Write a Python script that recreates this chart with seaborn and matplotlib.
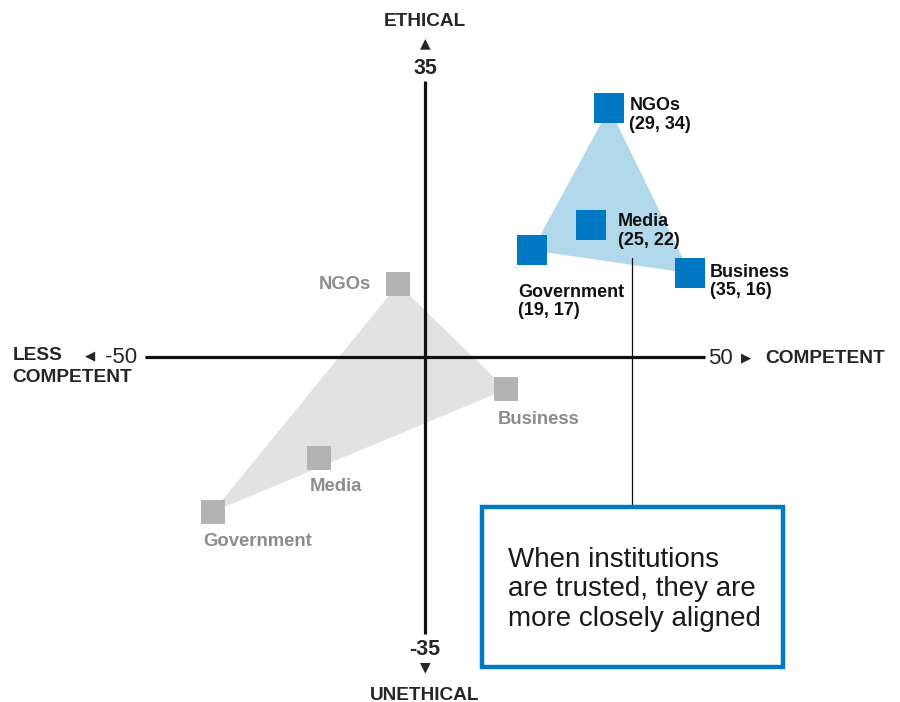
import matplotlib
matplotlib.use("Agg")
import matplotlib.pyplot as plt
import matplotlib.patches as patches
import seaborn as sns
import pandas as pd

# institutions, in the order used to draw the triangles
institutions = ["NGOs", "Media", "Government", "Business"]

# trusted set (blue) - plotted positions and printed labels
trusted_x = [32.9, 29.7, 19.1, 47.3]
trusted_y = [31.5, 16.7, 13.5, 10.6]
trusted_labels = ["NGOs\n(29, 34)", "Media\n(25, 22)", "Government\n(19, 17)", "Business\n(35, 16)"]

# distrusted set (gray)
distrust_x = [-4.8, -18.9, -37.9, 14.5]
distrust_y = [9.2, -12.8, -19.6, -4.1]

# axis scale ends
x_ticks = [-50, 50]
y_ticks = [-35, 35]

callout = "When institutions\nare trusted, they are\nmore closely aligned"

BLUE = "#0079C2"
BLUE_FILL = "#B2D8EC"
GRAY = "#B3B3B3"
GRAY_FILL = "#E2E2E2"
GRAY_TEXT = "#8C8C8C"
INK = "#111111"

sns.set_style("white")
plt.rcParams["font.family"] = ["Liberation Sans", "DejaVu Sans"]

trusted = pd.DataFrame({"name": institutions, "x": trusted_x, "y": trusted_y, "label": trusted_labels})
distrust = pd.DataFrame({"name": institutions, "x": distrust_x, "y": distrust_y})

fig = plt.figure(figsize=(9, 7.02), dpi=100)
ax = fig.add_axes([0, 0, 1, 1])
ax.set_xlim(-75.9, 84.8)
ax.set_ylim(-43.67, 45.19)
ax.axis("off")

# triangles (NGOs, Business, Government)
hull = ["NGOs", "Business", "Government"]
d_h = distrust.set_index("name").loc[hull]
t_h = trusted.set_index("name").loc[hull]
ax.fill(d_h["x"], d_h["y"], color=GRAY_FILL, lw=0, zorder=1)
ax.fill(t_h["x"], t_h["y"], color=BLUE_FILL, lw=0, zorder=1)

# axes
ax.plot(x_ticks, [0, 0], color=INK, lw=2.3, zorder=2, solid_capstyle="butt")
ax.plot([0, 0], y_ticks, color=INK, lw=2.3, zorder=2, solid_capstyle="butt")

sns.scatterplot(data=distrust, x="x", y="y", marker="s", s=300, color=GRAY,
                linewidth=0, ax=ax, zorder=3, legend=False)
sns.scatterplot(data=trusted, x="x", y="y", marker="s", s=440, color=BLUE,
                linewidth=0, ax=ax, zorder=4, legend=False)
ax.set_xlabel("")
ax.set_ylabel("")

# labels (offsets in points)
t_off = {"NGOs": (14.5, 8, "left"), "Media": (19, 8.5, "left"),
         "Government": (-10, -24, "left"), "Business": (14.5, 7, "left")}
for _, r in trusted.iterrows():
    dx, dy, ha = t_off[r["name"]]
    ax.annotate(r["label"], (r["x"], r["y"]), xytext=(dx, dy), textcoords="offset points",
                ha=ha, va="top", fontsize=13, fontweight="bold", color=INK,
                linespacing=1.12, zorder=5)

d_off = {"NGOs": (-19.5, 0, "right", "center"), "Media": (-6.5, -14, "left", "top"),
         "Government": (-7, -15.5, "left", "top"), "Business": (-6.5, -15.5, "left", "top")}
for _, r in distrust.iterrows():
    dx, dy, ha, va = d_off[r["name"]]
    ax.annotate(r["name"], (r["x"], r["y"]), xytext=(dx, dy), textcoords="offset points",
                ha=ha, va=va, fontsize=13.3, fontweight="bold", color=GRAY_TEXT, zorder=5)

# axis end labels
ax.annotate(str(y_ticks[1]), (0, y_ticks[1]), xytext=(0, 9), textcoords="offset points",
            ha="center", va="center", fontsize=15.5, fontweight="bold")
ax.annotate("\u25B2", (0, y_ticks[1]), xytext=(0, 27), textcoords="offset points",
            ha="center", va="center", fontsize=10, family="DejaVu Sans")
ax.annotate("ETHICAL", (0, y_ticks[1]), xytext=(0, 42.5), textcoords="offset points",
            ha="center", va="center", fontsize=13.7, fontweight="bold")

ax.annotate(str(y_ticks[0]), (0, y_ticks[0]), xytext=(0, -11.5), textcoords="offset points",
            ha="center", va="center", fontsize=15.5, fontweight="bold")
ax.annotate("\u25BC", (0, y_ticks[0]), xytext=(0, -24), textcoords="offset points",
            ha="center", va="center", fontsize=10, family="DejaVu Sans")
ax.annotate("UNETHICAL", (0, y_ticks[0]), xytext=(0, -44.5), textcoords="offset points",
            ha="center", va="center", fontsize=13.7, fontweight="bold")

ax.annotate(str(x_ticks[0]), (x_ticks[0], 0), xytext=(-6, 0), textcoords="offset points",
            ha="right", va="center", fontsize=16)
ax.annotate("\u25C0", (x_ticks[0], 0), xytext=(-36, 0.5), textcoords="offset points",
            ha="right", va="center", fontsize=9.5, family="DejaVu Sans")
ax.annotate("LESS", (x_ticks[0], 0), xytext=(-95.5, 1), textcoords="offset points",
            ha="left", va="center", fontsize=13.8, fontweight="bold")
ax.annotate("COMPETENT", (x_ticks[0], 0), xytext=(-95.5, -14.5), textcoords="offset points",
            ha="left", va="center", fontsize=13.8, fontweight="bold")
ax.annotate(str(x_ticks[1]), (x_ticks[1], 0), xytext=(2, -1), textcoords="offset points",
            ha="left", va="center", fontsize=16)
ax.annotate("\u25B6", (x_ticks[1], 0), xytext=(26, -0.5), textcoords="offset points",
            ha="left", va="center", fontsize=9.5, family="DejaVu Sans")
ax.annotate("COMPETENT", (x_ticks[1], 0), xytext=(43, -1), textcoords="offset points",
            ha="left", va="center", fontsize=13.8, fontweight="bold")

# callout box and connector
ax.plot([37.0, 37.0], [12.5, -19.0], color=INK, lw=0.9, zorder=2)
box = patches.Rectangle((10.2, -39.2), 53.7, 20.2, facecolor="white", edgecolor=BLUE,
                        lw=3.2, zorder=6)
ax.add_patch(box)
ax.text(14.8, -29.4, callout, ha="left", va="center", fontsize=20, color="#1a1a1a",
        linespacing=1.17, zorder=7)

fig.savefig("out.png", dpi=100)
